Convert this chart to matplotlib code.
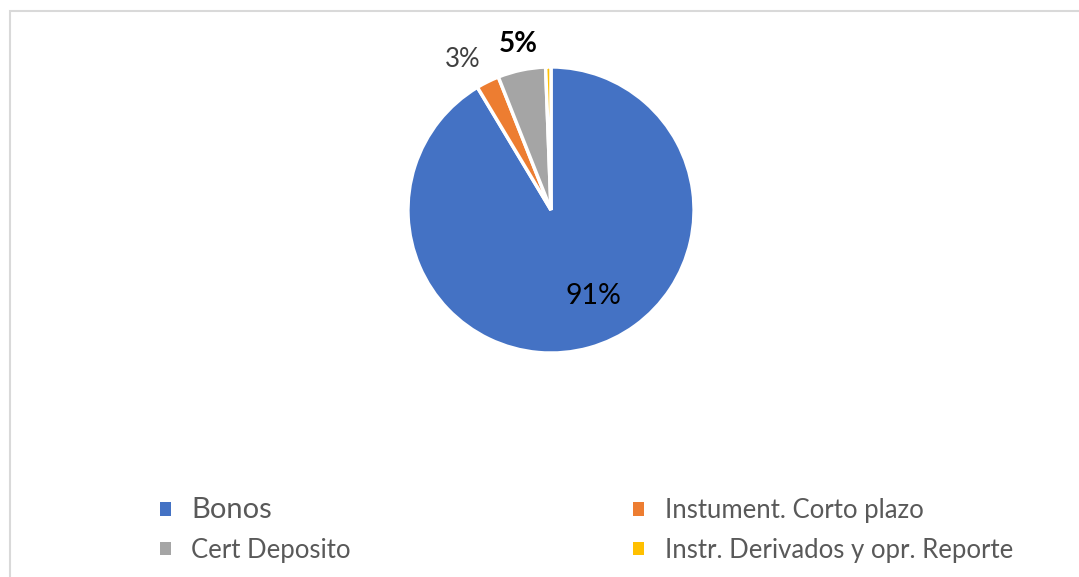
import matplotlib.pyplot as plt
from matplotlib.patches import Rectangle

# composición de la cartera (%)
categorias = ["Bonos", "Instument. Corto plazo", "Cert Deposito", "Instr. Derivados y opr. Reporte"]
valores = [91.4, 2.6, 5.4, 0.6]
colores = ["#4472C4", "#ED7D31", "#A5A5A5", "#FFC000"]

plt.rcParams['font.family'] = ['Lato', 'DejaVu Sans']

fig = plt.figure(figsize=(10.79, 5.77), dpi=100)

# marco del grafico (sigue fuera de la imagen por la derecha y abajo)
fig.patches.append(Rectangle((10 / 1079, -0.2), 1.2, 1.2 - 11 / 577, transform=fig.transFigure,
                             fill=False, edgecolor="#d9d9d9", lw=1.5))

ax = fig.add_axes([365 / 1079, 181 / 577, 372 / 1079, 372 / 577])
wedges, textos, pcts = ax.pie(valores, colors=colores, startangle=90, counterclock=False,
                              autopct=lambda p: "%.0f%%" % p,
                              wedgeprops=dict(edgecolor="white", linewidth=2.5))
ax.set_xlim(-1.3, 1.3)
ax.set_ylim(-1.3, 1.3)

# etiquetas de porcentaje
pcts[0].set_position((0.30, -0.60))
pcts[0].set_fontsize(20.5)
pcts[0].set_color("black")
pcts[1].set_position((-0.62, 1.05))
pcts[1].set_fontsize(18.5)
pcts[1].set_color("#404040")
pcts[2].set_position((-0.23, 1.16))
pcts[2].set_fontsize(20)
pcts[2].set_fontweight("bold")
pcts[2].set_color("black")
pcts[3].set_text("")

# leyenda en dos columnas, por filas
orden = [0, 2, 1, 3]
leg = fig.legend([wedges[i] for i in orden], [categorias[i] for i in orden], ncol=2,
                 loc="center left", bbox_to_anchor=(147 / 1079, 1 - 530 / 577), frameon=False,
                 fontsize=18.5, borderpad=0, handlelength=0.42, handleheight=0.42,
                 handletextpad=0.8, columnspacing=11.0, labelspacing=0.58,
                 labelcolor="#595959")
for h in leg.legend_handles:
    h.set_edgecolor("none")
leg.get_texts()[0].set_fontsize(21)

fig.savefig("out.png", dpi=100)
